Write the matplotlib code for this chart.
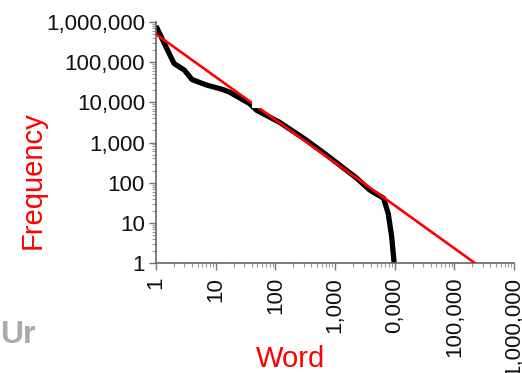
import matplotlib
matplotlib.use('Agg')
import matplotlib.pyplot as plt
import numpy as np
from matplotlib.ticker import LogLocator, NullFormatter

plt.rcParams['font.family'] = ['Liberation Sans', 'DejaVu Sans']

rank = [1, 2, 3, 4, 7, 13, 17, 37, 49, 117, 330, 720, 2300, 3800, 6500, 7800, 8900, 9800]
freq = [790000, 93000, 63000, 37000, 27000, 21000, 18000, 9300, 6300,
        3200, 1150, 490, 130, 66, 41, 17, 4.5, 1]

# fitted power law (Zipf)
fit_rank = [1, 220000]
fit_freq = [500000, 1]

x_ticks = [1, 10, 100, 1000, 10000, 100000, 1000000]
x_labels = ['1', '10', '100', '1,000', '0,000', '100,000', '1,000,000']
y_ticks = [1, 10, 100, 1000, 10000, 100000, 1000000]
y_labels = ['1', '10', '100', '1,000', '10,000', '100,000', '1,000,000']

fig = plt.figure(figsize=(5.22, 3.73), dpi=100)
ax = fig.add_axes([0.2989, 0.2949, 0.6858, 0.6461])

ax.plot(rank, freq, color='black', lw=3.8, solid_capstyle='butt', zorder=2)
ax.plot(fit_rank, fit_freq, color='#ff0000', lw=1.9, zorder=3)

ax.set_xscale('log')
ax.set_yscale('log')
ax.set_xlim(1, 1000000)
ax.set_ylim(1, 1000000)

ax.set_xticks(x_ticks)
ax.set_xticklabels(x_labels, rotation=90, fontsize=16)
ax.set_yticks(y_ticks)
ax.set_yticklabels(y_labels, fontsize=16)
ax.xaxis.set_minor_locator(LogLocator(base=10, subs=np.arange(2, 10), numticks=20))
ax.yaxis.set_minor_locator(LogLocator(base=10, subs=np.arange(2, 10), numticks=20))
ax.xaxis.set_minor_formatter(NullFormatter())
ax.yaxis.set_minor_formatter(NullFormatter())

for s in ['top', 'right']:
    ax.spines[s].set_visible(False)
for s in ['left', 'bottom']:
    ax.spines[s].set_color('#666666')
    ax.spines[s].set_linewidth(1.2)
ax.tick_params(which='major', length=5, width=1, color='#777777', pad=3, labelcolor='#111111')
ax.tick_params(axis='x', which='major', pad=5)
ax.tick_params(which='minor', length=3, width=0.8, color='#999999')

# small white patch over the line, as in the source slide
ax.add_patch(plt.Rectangle((0.267, 0.644), 0.03, 0.06, transform=ax.transAxes,
                           facecolor='white', edgecolor='none', zorder=4))

fig.text(0.063, 0.517, 'Frequency', color='#ff0000', fontsize=21,
         rotation=90, ha='center', va='center')
fig.text(0.557, 0.0, 'Word', color='#ff0000', fontsize=21,
         ha='center', va='bottom')
fig.text(0.0, 0.080, 'Ur', color='#aaaaaa', fontsize=23, fontweight='bold',
         ha='left', va='baseline')

fig.savefig('out.png', dpi=100)
